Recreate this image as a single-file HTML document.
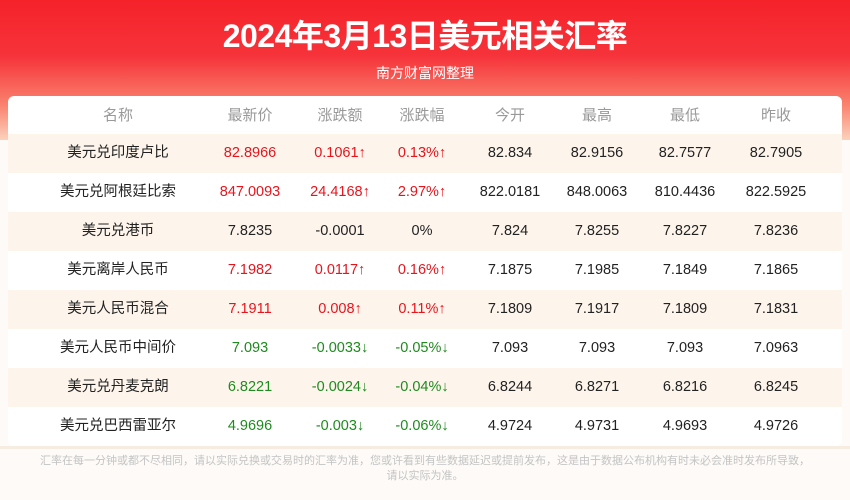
<!DOCTYPE html>
<html><head><meta charset="utf-8">
<style>
*{margin:0;padding:0;box-sizing:border-box}
body{width:850px;height:500px;overflow:hidden;background:#fdfaf7;font-family:"Liberation Sans","Noto Sans CJK SC",sans-serif;position:relative}
#hdr{position:absolute;left:0;top:0;width:850px;height:140px;background:linear-gradient(180deg,#f5222a 0%,#f6333a 40%,#f9826e 75%,#fbd2bd 100%)}
#title{position:absolute;top:11px;width:850px;text-align:center;color:#fff;font-size:32px;font-weight:bold;letter-spacing:-0.5px}
#sub{position:absolute;top:63px;width:850px;text-align:center;color:#fff;font-size:14px}
#card{position:absolute;left:8px;top:96px;width:834px;height:350px;background:#fff;border-radius:6px;overflow:hidden}
.row{position:absolute;left:0;width:834px;height:39px}
.c{position:absolute;top:0;line-height:39px;font-size:14.5px;transform:translateX(-50%);white-space:nowrap;color:#222}
.h .c{color:#999;font-size:15px}
.r{color:#e8141c}.g{color:#1f8a1f}
#foot{position:absolute;top:454px;left:25px;width:800px;text-align:center;color:#c4c4c4;font-size:11px;line-height:15px}
#line{position:absolute;left:0;top:446px;width:850px;height:3px;background:#f6ece2}
</style></head><body>
<div id="hdr"></div>
<div id="title">2024年3月13日美元相关汇率</div>
<div id="sub">南方财富网整理</div>
<div id="card"></div>
<div id="line"></div>
<div id="foot">汇率在每一分钟或都不尽相同，请以实际兑换或交易时的汇率为准，您或许看到有些数据延迟或提前发布，这是由于数据公布机构有时未必会准时发布所导致，<br>请以实际为准。</div>
<script>
const headers=["名称","最新价","涨跌额","涨跌幅","今开","最高","最低","昨收"];
const names=["美元兑印度卢比","美元兑阿根廷比索","美元兑港币","美元离岸人民币","美元人民币混合","美元人民币中间价","美元兑丹麦克朗","美元兑巴西雷亚尔"];
const latest=["82.8966","847.0093","7.8235","7.1982","7.1911","7.093","6.8221","4.9696"];
const change=["0.1061↑","24.4168↑","-0.0001","0.0117↑","0.008↑","-0.0033↓","-0.0024↓","-0.003↓"];
const pct=["0.13%↑","2.97%↑","0%","0.16%↑","0.11%↑","-0.05%↓","-0.04%↓","-0.06%↓"];
const openV=["82.834","822.0181","7.824","7.1875","7.1809","7.093","6.8244","4.9724"];
const highV=["82.9156","848.0063","7.8255","7.1985","7.1917","7.093","6.8271","4.9731"];
const lowV=["82.7577","810.4436","7.8227","7.1849","7.1809","7.093","6.8216","4.9693"];
const prevV=["82.7905","822.5925","7.8236","7.1865","7.1831","7.0963","6.8245","4.9726"];
const colX=[110,242,332,414,502,589,677,768];
const card=document.getElementById('card');
function mk(cls,txt,x,color){const d=document.createElement('div');d.className='c '+(color||'');d.style.left=x+'px';d.textContent=txt;return d;}
const h=document.createElement('div');h.className='row h';h.style.top='0px';


headers.forEach((t,i)=>{const c=mk('c',t,colX[i]);


h.appendChild(c);});
card.appendChild(h);
names.forEach((n,r)=>{
 const row=document.createElement('div');row.className='row';
 row.style.top=(38+r*39)+'px';
 row.style.background=r%2===0?'#fdf5ec':'#fff';
 
 
 const col=change[r].includes('↑')?'r':(change[r].includes('↓')?'g':'');
 const vals=[n,latest[r],change[r],pct[r],openV[r],highV[r],lowV[r],prevV[r]];
 vals.forEach((v,i)=>{const c=mk('c',v,colX[i],(i>=1&&i<=3)?col:'');
 
 
 row.appendChild(c);});
 card.appendChild(row);
});
</script>
</body></html>
